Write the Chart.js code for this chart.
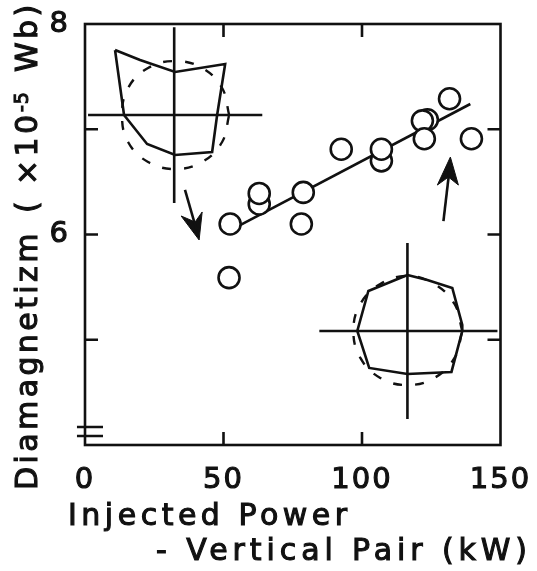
<!DOCTYPE html>
<html>
<head>
<meta charset="utf-8">
<title>Diamagnetizm vs injected power</title>
<script src="https://cdn.jsdelivr.net/npm/chart.js@4/dist/chart.umd.min.js"></script>
<style>
  body { margin: 0; background: #fff; }
  canvas { display: block; }
</style>
</head>
<body>
<canvas id="diaChart" width="537" height="571"></canvas>
<script>
// measured points
const powerKw = [52.4, 52.0, 62.9, 62.9, 78.1, 78.8, 92.5, 107, 107, 123.6, 121.8, 122.5, 131.6, 139.5];
const diamag = [6.10, 5.59, 6.29, 6.39, 6.10, 6.40, 6.81, 6.70, 6.81, 7.09, 7.08, 6.91, 7.29, 6.91];

// hand drawn fit
const fitX = [56, 139.1];
const fitY = [6.09, 7.24];

// left inset (plasma cross section)
const crossAX = [32.2, 32.2, null, 1.1, 64.0];
const crossAY = [7.97, 6.30, null, 7.135, 7.135];
const shapeAX = [10.84, 19.88, 32.53, 50.6, 47.7, 45.9, 32.53, 22.41, 14.09, 10.84];
const shapeAY = [7.753, 7.658, 7.544, 7.62, 7.135, 6.784, 6.755, 6.86, 7.135, 7.753];
const dashAX = [52.04, 49.5, 42.28, 32.53, 22.77, 15.54, 13.37, 15.54, 22.77, 32.53, 42.28, 49.5, 52.04];
const dashAY = [7.135, 7.392, 7.582, 7.648, 7.582, 7.392, 7.135, 6.879, 6.689, 6.622, 6.689, 6.879, 7.135];

// right inset
const crossBX = [116.4, 116.4, null, 84.6, 148.9];
const crossBY = [5.919, 4.247, null, 5.083, 5.083];
const shapeBX = [116.4, 123.6, 132.6, 136.2, 136.2, 132.3, 116.4, 102.6, 98.3, 102.3, 116.4];
const shapeBY = [5.615, 5.568, 5.492, 5.140, 5.083, 4.694, 4.675, 4.732, 5.083, 5.463, 5.615];
const dashBX = [136.2, 133.4, 126.1, 116.4, 106.6, 99.4, 96.9, 99.4, 106.6, 116.4, 126.1, 133.4, 136.2];
const dashBY = [5.083, 5.34, 5.53, 5.606, 5.53, 5.34, 5.083, 4.827, 4.637, 4.57, 4.637, 4.827, 5.083];

// arrows
const arrowAX = [36.1, 40.2];
const arrowAY = [6.423, 6.05];
const headAX = [41.2, 34.7, 39.75, 42.3, 41.2];
const headAY = [5.948, 6.176, 6.119, 6.214, 5.948];
const arrowBX = [129.4, 131.5];
const arrowBY = [6.128, 6.6];
const headBX = [131.9, 127.2, 131.2, 134.8, 131.9];
const headBY = [6.736, 6.47, 6.546, 6.47, 6.736];

// axis break marks
const breakX = [-2.9, 6.5, null, -2.9, 6.5];
const breakY = [4.171, 4.171, null, 4.086, 4.086];

const xLabels = [0, 50, 100, 150];
const yLabels = [6, 8];
const inkColor = '#111';
const fontName = '"DejaVu Sans"';

function pairs(xs, ys) {
    return xs.map((x, i) => ({ x: x, y: ys[i] }));
}

function lineSet(xs, ys, extra) {
    return Object.assign({
        data: pairs(xs, ys),
        showLine: true,
        borderColor: inkColor,
        backgroundColor: inkColor,
        borderWidth: 2.6,
        pointRadius: 0,
        fill: false,
        clip: false,
        order: 2
    }, extra);
}

function heavyText(ctx, text, x, y) {
    ctx.fillText(text, x, y);
    ctx.strokeText(text, x, y);
}

// frame and inward ticks, axis titles
const framePlugin = {
    id: 'frame',
    beforeDraw(chart) {
        chart.ctx.letterSpacing = '2px';
    },
    afterDatasetsDraw(chart) {
        const { ctx, chartArea: a, scales } = chart;
        ctx.save();
        ctx.strokeStyle = inkColor;
        ctx.lineWidth = 2.6;
        ctx.strokeRect(a.left, a.top, a.right - a.left, a.bottom - a.top);
        ctx.beginPath();
        scales.y.ticks.forEach(t => {
            if (t.value <= 4 || t.value >= 8) return;
            const py = scales.y.getPixelForValue(t.value);
            ctx.moveTo(a.left, py); ctx.lineTo(a.left + 13, py);
            ctx.moveTo(a.right, py); ctx.lineTo(a.right - 13, py);
        });
        scales.x.ticks.forEach(t => {
            if (t.value <= 0 || t.value >= 150) return;
            const px = scales.x.getPixelForValue(t.value);
            ctx.moveTo(px, a.top); ctx.lineTo(px, a.top + 13);
            ctx.moveTo(px, a.bottom); ctx.lineTo(px, a.bottom - 13);
        });
        ctx.stroke();
        ctx.restore();
    },
    afterDraw(chart) {
        const ctx = chart.ctx;
        ctx.save();
        ctx.fillStyle = inkColor;
        ctx.strokeStyle = inkColor;
        ctx.lineWidth = 1.1;
        ctx.textBaseline = 'alphabetic';
        ctx.textAlign = 'left';
        ctx.font = '30px ' + fontName;
        ctx.letterSpacing = '4.5px';
        heavyText(ctx, 'Injected Power', 68, 525);
        ctx.letterSpacing = '4.9px';
        heavyText(ctx, '- Vertical Pair (kW)', 156, 560);

        ctx.translate(37, 490);
        ctx.rotate(-Math.PI / 2);
        ctx.letterSpacing = '3.4px';
        heavyText(ctx, 'Diamagnetizm', 0, 0);
        heavyText(ctx, '( ×10', 277, 0);
        heavyText(ctx, 'Wb)', 418, 0);
        ctx.font = '19px ' + fontName;
        ctx.letterSpacing = '1px';
        heavyText(ctx, '-5', 378, -9);
        ctx.restore();
    }
};

const tickOptions = {
    color: inkColor,
    textStrokeColor: inkColor,
    textStrokeWidth: 1.1,
    font: { family: fontName, size: 29 }
};

new Chart(document.getElementById('diaChart'), {
    type: 'scatter',
    data: {
        datasets: [
            {
                label: 'Diamagnetizm',
                data: pairs(powerKw, diamag),
                borderColor: inkColor,
                backgroundColor: '#fff',
                borderWidth: 2.6,
                pointRadius: 10.5,
                pointHoverRadius: 10.5,
                order: 1
            },
            lineSet(fitX, fitY),
            lineSet(crossAX, crossAY),
            lineSet(shapeAX, shapeAY),
            lineSet(dashAX, dashAY, { borderDash: [9, 13], borderWidth: 2.4, tension: 0.4 }),
            lineSet(crossBX, crossBY),
            lineSet(shapeBX, shapeBY),
            lineSet(dashBX, dashBY, { borderDash: [9, 13], borderWidth: 2.4, tension: 0.4 }),
            lineSet(arrowAX, arrowAY),
            lineSet(headAX, headAY, { fill: 'shape', borderWidth: 1 }),
            lineSet(arrowBX, arrowBY),
            lineSet(headBX, headBY, { fill: 'shape', borderWidth: 1 }),
            lineSet(breakX, breakY)
        ]
    },
    plugins: [framePlugin],
    options: {
        responsive: false,
        animation: false,
        layout: { padding: { top: 24, right: 36.5 } },
        plugins: { legend: { display: false }, tooltip: { enabled: false } },
        scales: {
            x: {
                type: 'linear',
                min: 0,
                max: 150,
                afterFit(scale) { scale.height = 126; scale.paddingLeft = 0; scale.paddingRight = 0; },
                afterBuildTicks(scale) { scale.ticks = xLabels.map(v => ({ value: v })); },
                grid: { display: false },
                border: { display: false },
                ticks: Object.assign({ maxRotation: 0, padding: 10 }, tickOptions)
            },
            y: {
                type: 'linear',
                min: 4,
                max: 8,
                afterFit(scale) { scale.width = 85; scale.paddingTop = 0; scale.paddingBottom = 0; },
                grid: { display: false },
                border: { display: false },
                ticks: Object.assign({
                    stepSize: 1,
                    padding: 7,
                    callback: v => yLabels.includes(v) ? String(v) : ''
                }, tickOptions)
            }
        }
    }
});
</script>
</body>
</html>
